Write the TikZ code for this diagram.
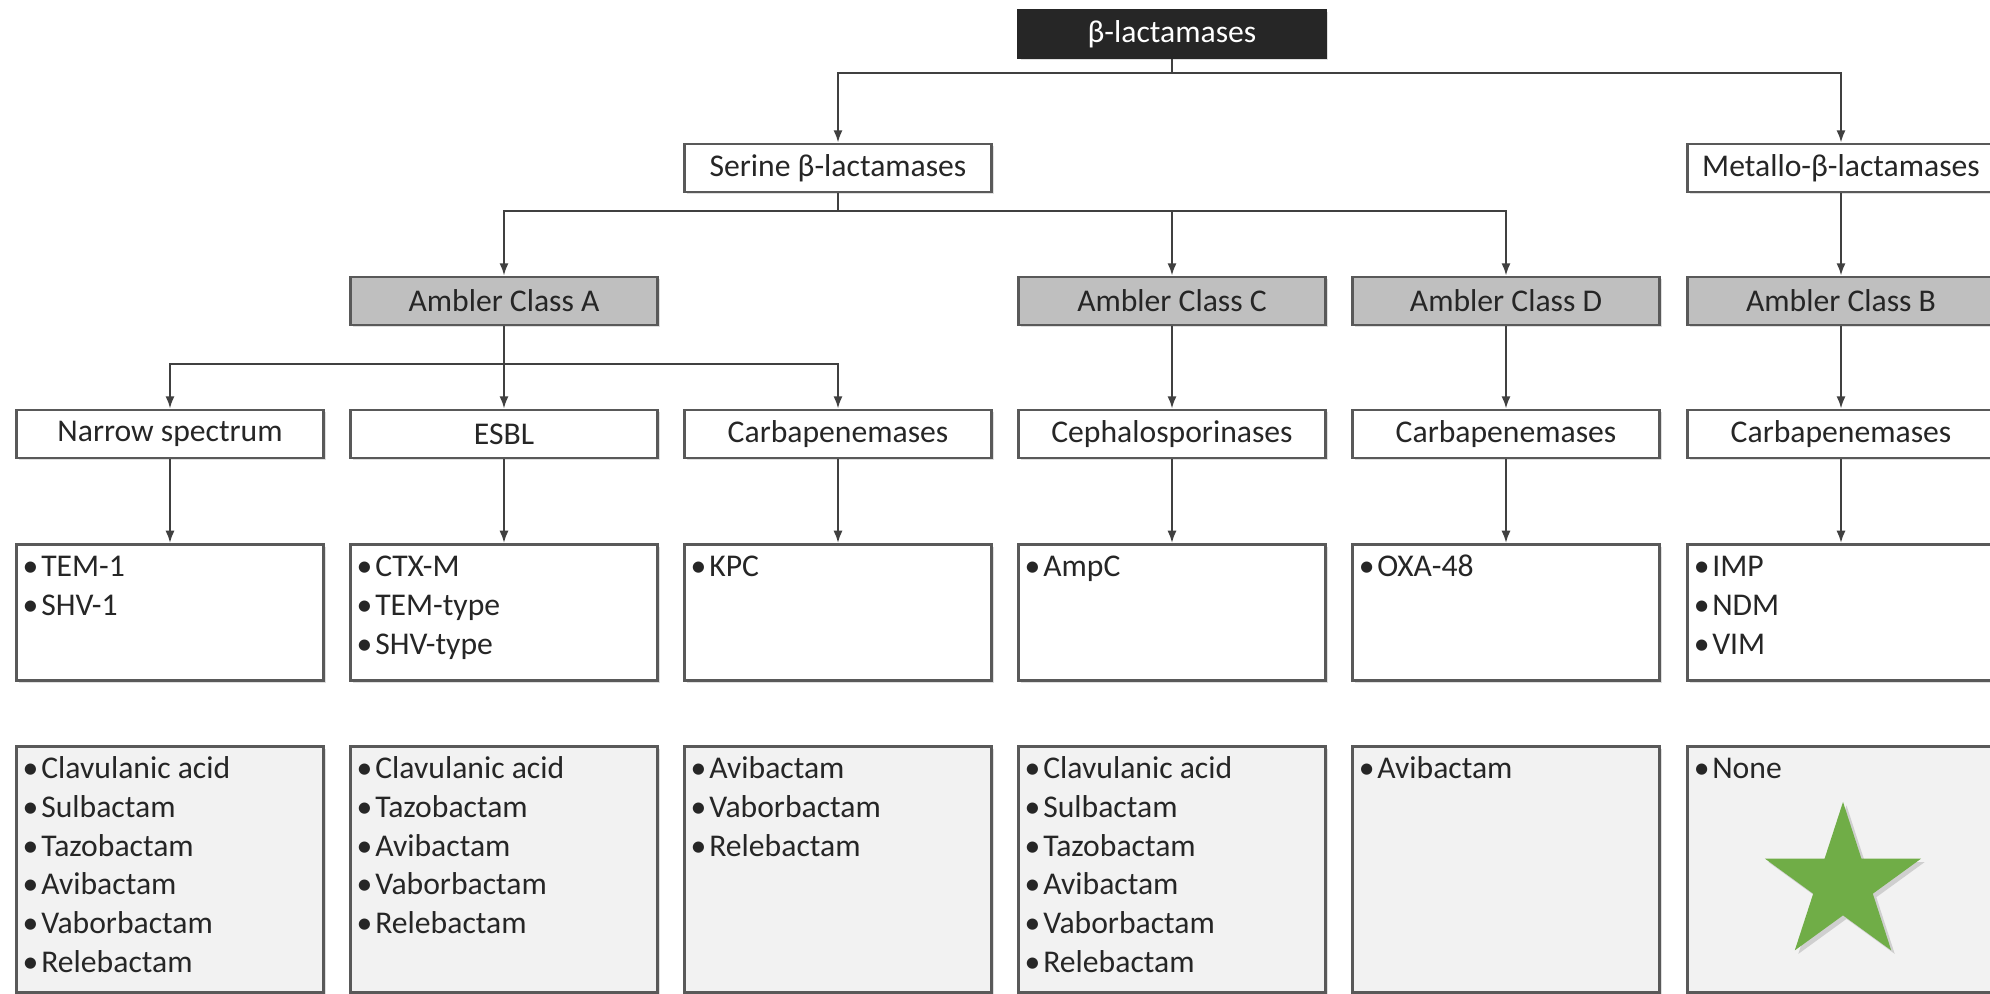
\documentclass[tikz,border=0pt]{standalone}
\usepackage{fontspec}
\setmainfont{Carlito}
\usetikzlibrary{arrows.meta,shapes.geometric,shadows}

\definecolor{boxline}{HTML}{595959}
\definecolor{classfill}{HTML}{BFBFBF}
\definecolor{inhibfill}{HTML}{F2F2F2}
\definecolor{topfill}{HTML}{262626}
\definecolor{linkcol}{HTML}{404040}
\definecolor{stargreen}{HTML}{70AD47}

\newcommand{\itm}{\strut\textbullet\hspace{0.8pt}}

\tikzset{
  box/.style={draw=boxline, line width=0.8pt, minimum width=3.07cm, minimum height=0.48cm,
    inner sep=0pt, text=black!85,
    drop shadow={shadow xshift=0.6pt, shadow yshift=-0.6pt, opacity=0.25}},
  topbox/.style={box, fill=topfill, draw=topfill, text=white},
  groupbox/.style={box, fill=white},
  classbox/.style={box, fill=classfill},
  enzbox/.style={box, fill=white, anchor=north, minimum height=1.36cm},
  inhbox/.style={box, fill=inhibfill, anchor=north, minimum height=2.46cm},
  items/.style={anchor=north west, align=left, inner sep=0pt, xshift=2pt, yshift=-1.7pt, text=black!85},
  link/.style={->, draw=linkcol, line width=0.6pt},
}

\begin{document}
\begin{tikzpicture}[x=0.01cm, y=-0.01cm, >={Latex[length=3.5pt,width=2.6pt]}, font=\fontsize{9}{11}\selectfont]
  \useasboundingbox (0,0) rectangle (1990,993);
  \clip (0,0) rectangle (1990,993);
  \fill[white] (0,0) rectangle (1990,993);
  % top
  \node[topbox] (bla) at (1172,34) {β-lactamases};
  % serine / metallo
  \node[groupbox] (ser) at (838,168) {Serine β-lactamases};
  \node[groupbox] (met) at (1841,168) {Metallo-β-lactamases};
  % Ambler classes
  \node[classbox] (clA) at (504,301) {Ambler Class A};
  \node[classbox] (clC) at (1172,301) {Ambler Class C};
  \node[classbox] (clD) at (1506,301) {Ambler Class D};
  \node[classbox] (clB) at (1841,301) {Ambler Class B};
  % subgroups
  \node[groupbox] (nar) at (170,434) {Narrow spectrum};
  \node[groupbox] (esbl) at (504,434) {ESBL};
  \node[groupbox] (carA) at (838,434) {Carbapenemases};
  \node[groupbox] (ceph) at (1172,434) {Cephalosporinases};
  \node[groupbox] (carD) at (1506,434) {Carbapenemases};
  \node[groupbox] (carB) at (1841,434) {Carbapenemases};
  % enzymes
  \node[enzbox] (enzNar) at (170,543) {};
  \node[items] (lstNar) at (enzNar.north west) {\itm TEM-1\\\itm SHV-1};
  \node[enzbox] (enzEsbl) at (504,543) {};
  \node[items] (lstEsbl) at (enzEsbl.north west) {\itm CTX-M\\\itm TEM-type\\\itm SHV-type};
  \node[enzbox] (enzCarA) at (838,543) {};
  \node[items] (lstCarA) at (enzCarA.north west) {\itm KPC};
  \node[enzbox] (enzCeph) at (1172,543) {};
  \node[items] (lstCeph) at (enzCeph.north west) {\itm AmpC};
  \node[enzbox] (enzCarD) at (1506,543) {};
  \node[items] (lstCarD) at (enzCarD.north west) {\itm OXA-48};
  \node[enzbox] (enzCarB) at (1841,543) {};
  \node[items] (lstCarB) at (enzCarB.north west) {\itm IMP\\\itm NDM\\\itm VIM};
  % inhibitors
  \node[inhbox] (inhNar) at (170,745) {};
  \node[items] (ihNar) at (inhNar.north west) {\itm Clavulanic acid\\\itm Sulbactam\\\itm Tazobactam\\\itm Avibactam\\\itm Vaborbactam\\\itm Relebactam};
  \node[inhbox] (inhEsbl) at (504,745) {};
  \node[items] (ihEsbl) at (inhEsbl.north west) {\itm Clavulanic acid\\\itm Tazobactam\\\itm Avibactam\\\itm Vaborbactam\\\itm Relebactam};
  \node[inhbox] (inhCarA) at (838,745) {};
  \node[items] (ihCarA) at (inhCarA.north west) {\itm Avibactam\\\itm Vaborbactam\\\itm Relebactam};
  \node[inhbox] (inhCeph) at (1172,745) {};
  \node[items] (ihCeph) at (inhCeph.north west) {\itm Clavulanic acid\\\itm Sulbactam\\\itm Tazobactam\\\itm Avibactam\\\itm Vaborbactam\\\itm Relebactam};
  \node[inhbox] (inhCarD) at (1506,745) {};
  \node[items] (ihCarD) at (inhCarD.north west) {\itm Avibactam};
  \node[inhbox] (inhCarB) at (1841,745) {};
  \node[items] (ihCarB) at (inhCarB.north west) {\itm None};
  % star
  \node[star, star points=5, star point ratio=2.618, fill=stargreen, minimum size=1.64cm, inner sep=0pt,
    drop shadow={shadow xshift=1pt, shadow yshift=-1pt, opacity=0.3}] (best) at (1843,884) {};
  % links
  \draw[link] (bla.south) -- ++(0,14) -| (ser.north);
  \draw[link] (bla.south) -- ++(0,14) -| (met.north);
  \draw[link] (ser.south) -- ++(0,18) -| (clA.north);
  \draw[link] (ser.south) -- ++(0,18) -| (clC.north);
  \draw[link] (ser.south) -- ++(0,18) -| (clD.north);
  \draw[link] (met) -- (clB);
  \draw[link] (clA.south) -- ++(0,38) -| (nar.north);
  \draw[link] (clA) -- (esbl);
  \draw[link] (clA.south) -- ++(0,38) -| (carA.north);
  \draw[link] (clC) -- (ceph);
  \draw[link] (clD) -- (carD);
  \draw[link] (clB) -- (carB);
  \draw[link] (nar) -- (enzNar);
  \draw[link] (esbl) -- (enzEsbl);
  \draw[link] (carA) -- (enzCarA);
  \draw[link] (ceph) -- (enzCeph);
  \draw[link] (carD) -- (enzCarD);
  \draw[link] (carB) -- (enzCarB);
\end{tikzpicture}
\end{document}
